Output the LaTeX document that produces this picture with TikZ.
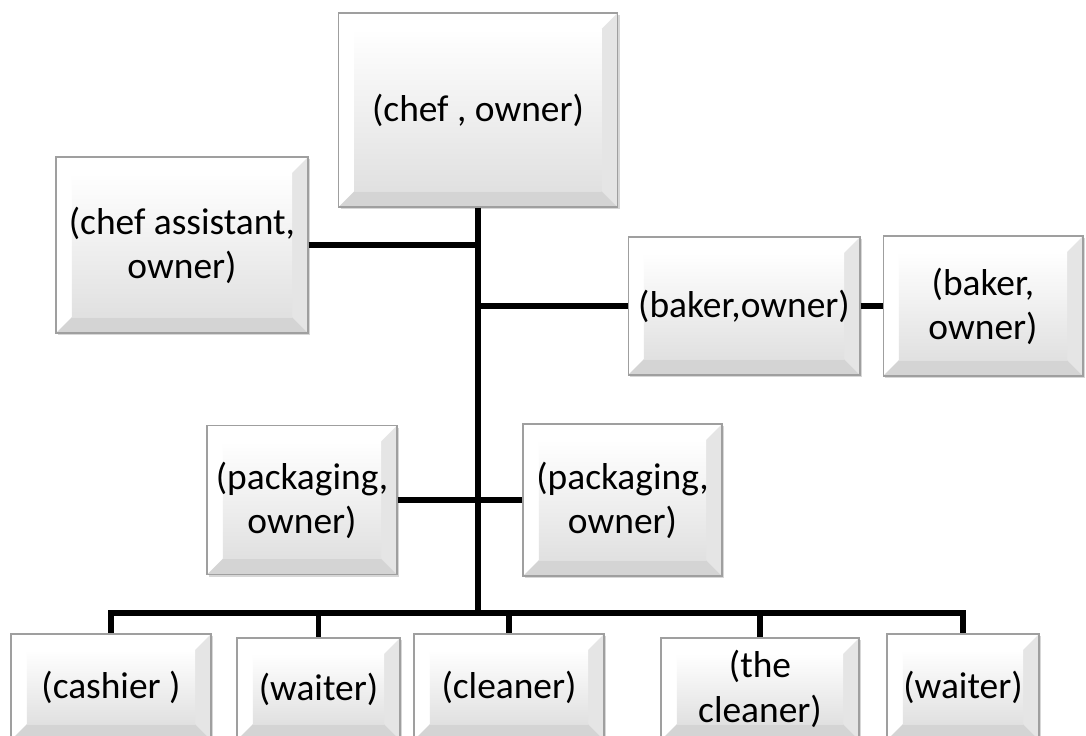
\documentclass[tikz,border=0pt]{standalone}
\usepackage{fontspec}
\setmainfont{Carlito}
\usepackage{tikz}
\usetikzlibrary{calc,shadows}

\newcommand{\boxfont}{\fontsize{21.3}{25}\selectfont}
\newcommand{\bv}{9pt}

\tikzset{
  box/.style={draw=gray!75, line width=0.6pt, fill=white, align=center, font=\boxfont, inner sep=2pt,
    drop shadow={shadow xshift=1.2pt, shadow yshift=-1.4pt, fill=gray!70, opacity=0.45},
    path picture={
      \path[fill=white] let \p1=(path picture bounding box.south west), \p2=(path picture bounding box.north east) in
        (\x1,\y1) -- (\x1+\bv,\y1+\bv) -- (\x1+\bv,\y2-\bv) -- (\x2-\bv,\y2-\bv) -- (\x2,\y2) -- (\x1,\y2) -- cycle;
      \path[fill=gray!20] let \p1=(path picture bounding box.south west), \p2=(path picture bounding box.north east) in
        (\x2,\y2) -- (\x2-\bv,\y2-\bv) -- (\x2-\bv,\y1+\bv) -- (\x2,\y1) -- cycle;
      \path[fill=gray!34] let \p1=(path picture bounding box.south west), \p2=(path picture bounding box.north east) in
        (\x1,\y1) -- (\x1+\bv,\y1+\bv) -- (\x2-\bv,\y1+\bv) -- (\x2,\y1) -- cycle;
      \shade[top color=white, bottom color=gray!24] let \p1=(path picture bounding box.south west), \p2=(path picture bounding box.north east) in
        (\x1+\bv,\y1+\bv) rectangle (\x2-\bv,\y2-\bv);
    }},
  link/.style={line width=3.1pt}
}

\begin{document}
\begin{tikzpicture}[x=0.02cm,y=-0.02cm]
  \useasboundingbox (0,0) rectangle (1086,735);
  \clip (0,0) rectangle (1086,735);

  \node[box, minimum width=5.58cm, minimum height=3.88cm] (chef) at (478,110) {(chef , owner)};
  \node[box, minimum width=5.04cm, minimum height=3.52cm] (assist) at (182,245) {(chef assistant,\\ owner)};
  \node[box, minimum width=4.64cm, minimum height=2.76cm] (bakerA) at (744,306) {(baker,owner)};
  \node[box, minimum width=4.00cm, minimum height=2.80cm] (bakerB) at (983,306) {(baker,\\ owner)};
  \node[box, minimum width=3.80cm, minimum height=2.98cm] (packA) at (302,500) {(packaging,\\ owner)};
  \node[box, minimum width=3.98cm, minimum height=3.04cm] (packB) at (622.5,500) {(packaging,\\ owner)};

  \node[box, minimum width=4.00cm, minimum height=2.12cm] (cashier) at (111,687) {(cashier )};
  \node[box, minimum width=3.26cm, minimum height=2.04cm] (waiterA) at (318.5,689) {(waiter)};
  \node[box, minimum width=3.80cm, minimum height=2.12cm] (cleanerA) at (509,687) {(cleaner)};
  \node[box, minimum width=3.96cm, minimum height=2.04cm, font=\fontsize{21.3}{26}\selectfont] (cleanerB) at (760,689) {(the\\ cleaner)};
  \node[box, minimum width=3.04cm, minimum height=2.12cm] (waiterB) at (963,687) {(waiter)};

  \coordinate (bus) at (478,613);
  \draw[link] (chef.south) -- (chef.south |- bus);
  \draw[link] (assist.east) -- (assist.east -| chef.south);
  \draw[link] (bakerA.west -| chef.south) -- (bakerA.west);
  \draw[link] (bakerA.east) -- (bakerB.west);
  \draw[link] (packA.east) -- (packA.east -| chef.south);
  \draw[link] (packB.west -| chef.south) -- (packB.west);

  \draw[link, line cap=rect] (cashier.north |- bus) -- (waiterB.north |- bus);
  \foreach \n in {cashier,waiterA,cleanerA,cleanerB,waiterB}
    \draw[link] (\n.north |- bus) -- (\n.north);
\end{tikzpicture}
\end{document}
